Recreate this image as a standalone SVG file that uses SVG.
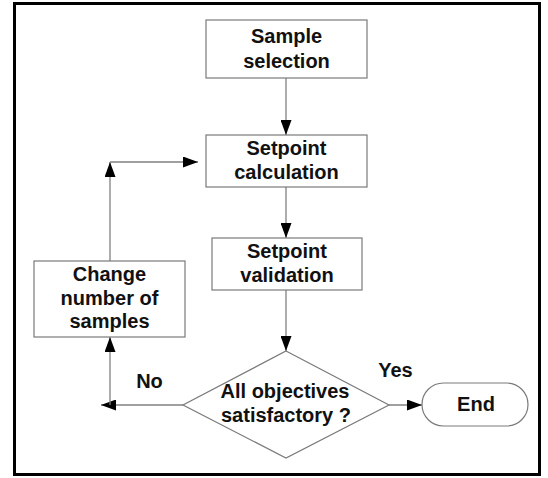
<svg xmlns="http://www.w3.org/2000/svg" width="548" height="478" viewBox="0 0 548 478">
<style>
.box{fill:#fff;stroke:#7a7a7a;stroke-width:1.2}
.lbl{font-family:"Liberation Sans",Arial,sans-serif;font-weight:bold;font-size:20px;fill:#111;text-anchor:middle}
.con{fill:none;stroke:#808080;stroke-width:1.3}
</style>
<defs>
<marker id="ah" markerWidth="15" markerHeight="11" refX="15" refY="5.5" orient="auto" markerUnits="userSpaceOnUse">
<path d="M0,0 L15,5.5 L0,11 Z" fill="#000"/>
</marker>
</defs>
<rect width="548" height="478" fill="#fff"/>
<rect x="14.5" y="3.5" width="525" height="471" fill="none" stroke="#000" stroke-width="3"/>
<g id="connectors">
<line class="con" x1="286" y1="78" x2="286" y2="135" marker-end="url(#ah)"/>
<line class="con" x1="286" y1="187" x2="286" y2="238" marker-end="url(#ah)"/>
<line class="con" x1="286" y1="290" x2="286" y2="351" marker-end="url(#ah)"/>
<line class="con" x1="389" y1="405" x2="422" y2="405" marker-end="url(#ah)"/>
<line class="con" x1="183" y1="405" x2="101" y2="405" marker-end="url(#ah)"/>
<line class="con" x1="110" y1="405" x2="110" y2="337" marker-end="url(#ah)"/>
<line class="con" x1="110" y1="261" x2="110" y2="162" marker-end="url(#ah)"/>
<line class="con" x1="110" y1="162" x2="198" y2="162" marker-end="url(#ah)"/>
</g>
<g id="sample">
<rect class="box" x="206" y="20" width="161" height="58"/>
<text class="lbl" x="286.5" y="43">Sample</text>
<text class="lbl" x="286.5" y="68">selection</text>
</g>
<g id="calc">
<rect class="box" x="206" y="135" width="161" height="52"/>
<text class="lbl" x="286.5" y="155">Setpoint</text>
<text class="lbl" x="286.5" y="179">calculation</text>
</g>
<g id="valid">
<rect class="box" x="212" y="238" width="150" height="52"/>
<text class="lbl" x="287" y="258">Setpoint</text>
<text class="lbl" x="287" y="282">validation</text>
</g>
<g id="change">
<rect class="box" x="34" y="261" width="151" height="76"/>
<text class="lbl" x="109.5" y="281">Change</text>
<text class="lbl" x="109.5" y="305">number of</text>
<text class="lbl" x="109.5" y="328">samples</text>
</g>
<g id="decision">
<polygon class="box" points="286,351 389,405 286,458 183,405"/>
<text class="lbl" x="285" y="398">All objectives</text>
<text class="lbl" x="286" y="422">satisfactory ?</text>
</g>
<g id="end">
<rect class="box" x="422" y="383" width="106" height="43" rx="21.5" ry="21.5"/>
<text class="lbl" x="476" y="411">End</text>
</g>
<g id="labels">
<text class="lbl" x="395.5" y="377">Yes</text>
<text class="lbl" x="149.5" y="388">No</text>
</g>
</svg>
